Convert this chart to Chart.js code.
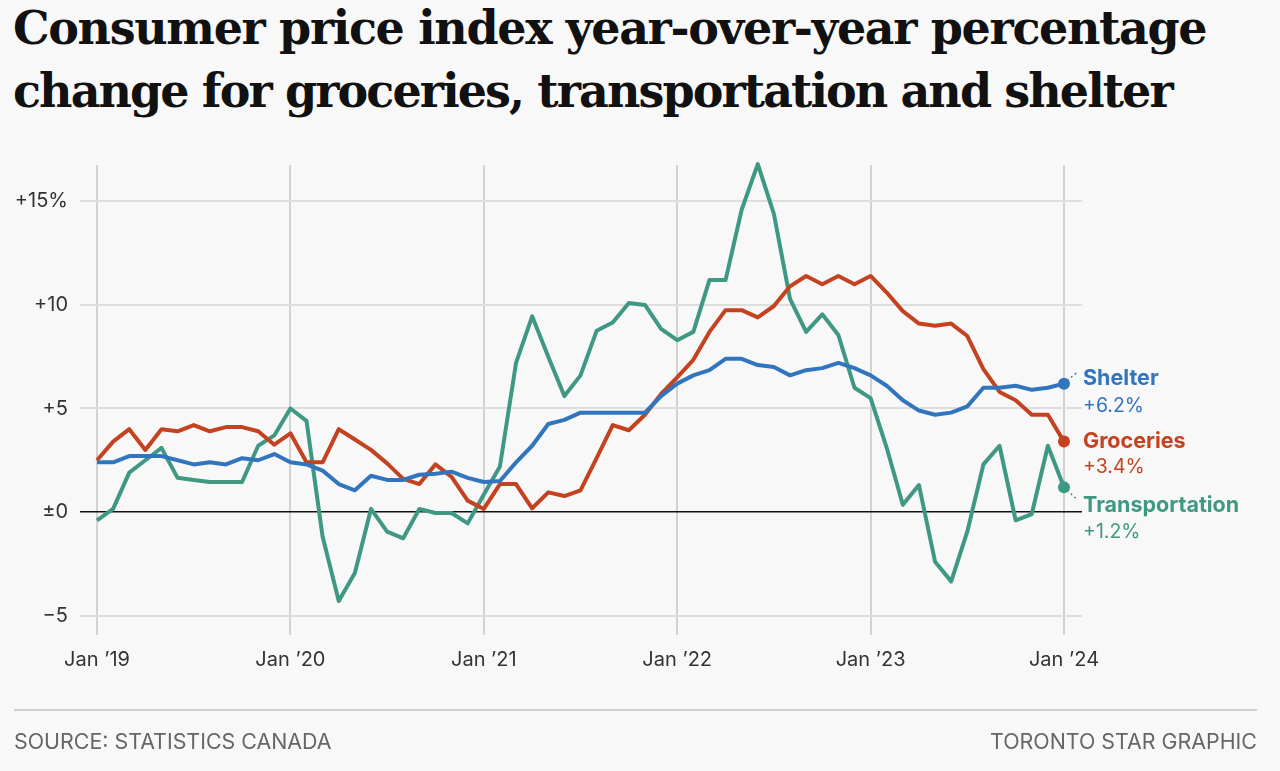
<!DOCTYPE html>
<html>
<head>
<meta charset="utf-8">
<script src="https://cdn.jsdelivr.net/npm/chart.js@4/dist/chart.umd.min.js"></script>
<style>
  html, body { margin: 0; padding: 0; background: #f8f8f8; }
  body { width: 1280px; height: 771px; position: relative; overflow: hidden; }
  #title { position: absolute; left: 13px; top: -3px; margin: 0; font-family: "DejaVu Serif", serif; font-weight: bold; font-size: 46px; line-height: 63px; color: #111; white-space: nowrap; }
  #title .l1 { letter-spacing: -1.35px; }
  #title .l2 { letter-spacing: -1.9px; }
  #chartwrap { position: absolute; left: 0; top: 0; width: 1280px; height: 771px; }
  #rule { position: absolute; left: 14px; width: 1243px; top: 709px; height: 2px; background: #d0d0d0; }
  .foot { position: absolute; top: 728px; font-family: Inter, "Noto Sans", sans-serif; font-size: 21.4px; color: #666; line-height: 26px; }
  #src { left: 14px; }
  #credit { right: 23px; }
</style>
</head>
<body>
<h1 id="title"><span class="l1">Consumer price index year-over-year percentage</span><br><span class="l2">change for groceries, transportation and shelter</span></h1>
<div id="chartwrap"><canvas id="c" width="1280" height="771"></canvas></div>
<div id="rule"></div>
<div class="foot" id="src">SOURCE: STATISTICS CANADA</div>
<div class="foot" id="credit">TORONTO STAR GRAPHIC</div>
<script>
// Months from Jan 2019 (index 0) to Jan 2024 (index 60)
const months = Array.from({length: 61}, (_, i) => i);
const xTickPositions = [0, 12, 24, 36, 48, 60];
const xTickLabels = ["Jan \u201919", "Jan \u201920", "Jan \u201921", "Jan \u201922", "Jan \u201923", "Jan \u201924"];
const yTickValues = [-5, 0, 5, 10, 15];
const yTickLabels = ["\u22125", "\u00b10", "+5", "+10", "+15%"];

const shelter = [
  2.4, 2.4, 2.7, 2.7, 2.7, 2.5, 2.3, 2.4, 2.3, 2.6, 2.5, 2.8,
  2.4, 2.3, 2.0, 1.35, 1.05, 1.75, 1.55, 1.55, 1.8, 1.85, 1.95, 1.65,
  1.45, 1.5, 2.4, 3.2, 4.25, 4.45, 4.8, 4.8, 4.8, 4.8, 4.8, 5.6,
  6.2, 6.6, 6.85, 7.4, 7.4, 7.1, 7.0, 6.6, 6.85, 6.95, 7.2, 6.95,
  6.6, 6.1, 5.4, 4.9, 4.7, 4.8, 5.1, 6.0, 6.0, 6.1, 5.9, 6.0,
  6.2
];
const groceries = [
  2.5, 3.4, 4.0, 3.0, 4.0, 3.9, 4.2, 3.9, 4.1, 4.1, 3.9, 3.25,
  3.8, 2.4, 2.4, 4.0, 3.5, 3.0, 2.35, 1.6, 1.35, 2.3, 1.7, 0.55,
  0.15, 1.35, 1.35, 0.18, 0.95, 0.77, 1.05, 2.6, 4.2, 3.95, 4.7, 5.7,
  6.5, 7.35, 8.7, 9.75, 9.75, 9.4, 9.95, 10.9, 11.4, 11.0, 11.4, 11.0,
  11.4, 10.6, 9.7, 9.1, 9.0, 9.1, 8.5, 6.9, 5.8, 5.4, 4.7, 4.7,
  3.4
];
const transportation = [
  -0.4, 0.15, 1.9, 2.5, 3.1, 1.65, 1.55, 1.45, 1.45, 1.45, 3.2, 3.7,
  5.0, 4.4, -1.2, -4.3, -2.95, 0.15, -0.95, -1.27, 0.15, -0.05, -0.05, -0.55,
  0.85, 2.2, 7.2, 9.45, 7.5, 5.6, 6.6, 8.75, 9.15, 10.1, 10.0, 8.85,
  8.3, 8.7, 11.2, 11.2, 14.6, 16.8, 14.4, 10.3, 8.7, 9.55, 8.55, 6.0,
  5.5, 3.1, 0.35, 1.3, -2.4, -3.35, -0.95, 2.3, 3.2, -0.4, -0.1, 3.2,
  1.2
];
const seriesNames = ["Shelter", "Groceries", "Transportation"];
const seriesColors = ["#3175bf", "#c4421f", "#3f9883"];

const toPts = arr => arr.map((v, i) => ({x: months[i], y: v}));

// label placement relative to each series' last point (pixels)
const labelOffsets = [
  {dx: 19, dyName: -5, dyValue: 22, lead: [[3, -3], [14, -12]]},
  {dx: 19, dyName: 0, dyValue: 26, lead: null},
  {dx: 19, dyName: 18, dyValue: 45, lead: [[3, 3], [14, 13]]}
];

const endLabels = {
  id: 'endLabels',
  afterDatasetsDraw(chart) {
    const ctx = chart.ctx;
    chart.data.datasets.forEach((ds, di) => {
      const meta = chart.getDatasetMeta(di);
      const p = meta.data[meta.data.length - 1];
      const last = ds.data[ds.data.length - 1].y;
      const o = labelOffsets[di];
      ctx.save();
      if (o.lead) {
        ctx.strokeStyle = seriesColors[di];
        ctx.lineWidth = 1.5;
        ctx.setLineDash([2, 3]);
        ctx.beginPath();
        ctx.moveTo(p.x + o.lead[0][0], p.y + o.lead[0][1]);
        ctx.lineTo(p.x + o.lead[1][0], p.y + o.lead[1][1]);
        ctx.stroke();
        ctx.setLineDash([]);
      }
      ctx.fillStyle = seriesColors[di];
      ctx.textBaseline = 'middle';
      ctx.textAlign = 'left';
      ctx.font = 'bold 21.5px Inter, "Noto Sans", sans-serif';
      ctx.fillText(seriesNames[di], p.x + o.dx, p.y + o.dyName);
      ctx.font = '19.5px Inter, "Noto Sans", sans-serif';
      ctx.fillText((last >= 0 ? '+' : '\u2212') + Math.abs(last).toFixed(1) + '%', p.x + o.dx, p.y + o.dyValue);
      ctx.restore();
    });
  }
};

new Chart(document.getElementById('c'), {
  type: 'line',
  data: {
    datasets: seriesNames.map((name, i) => ({
      label: name,
      data: toPts([shelter, groceries, transportation][i]),
      borderColor: seriesColors[i],
      backgroundColor: seriesColors[i],
      borderWidth: 4,
      tension: 0,
      clip: false,
      borderJoinStyle: 'round',
      pointRadius: ctx => ctx.dataIndex === 60 ? 6 : 0,
      pointHoverRadius: 0,
      pointBorderWidth: 0
    }))
  },
  options: {
    responsive: false,
    animation: false,
    events: [],
    layout: { padding: { left: 0, top: 165, right: 198, bottom: 86 } },
    plugins: { legend: { display: false }, tooltip: { enabled: false } },
    scales: {
      x: {
        type: 'linear',
        min: -1.055,
        max: 61.117,
        afterBuildTicks: s => { s.ticks = xTickPositions.map(v => ({value: v})); },
        afterFit: s => { s.height = 50; },
        grid: { color: '#d2d2d2', lineWidth: 2, drawTicks: false },
        border: { display: false },
        ticks: {
          padding: 13,
          color: '#333',
          font: { family: 'Inter, "Noto Sans", sans-serif', size: 20 },
          maxRotation: 0,
          autoSkip: false,
          callback: v => xTickLabels[xTickPositions.indexOf(v)]
        }
      },
      y: {
        type: 'linear',
        min: -5.94,
        max: 16.76,
        afterBuildTicks: s => { s.ticks = yTickValues.map(v => ({value: v})); },
        afterFit: s => { s.width = 80; },
        grid: {
          color: c => c.tick && c.tick.value === 0 ? '#111' : '#dedede',
          lineWidth: c => c.tick && c.tick.value === 0 ? 1.6 : 2,
          drawTicks: false,
          z: 0
        },
        border: { display: false },
        ticks: {
          padding: 12,
          color: '#333',
          font: { family: 'Inter, "Noto Sans", sans-serif', size: 20 },
          autoSkip: false,
          callback: v => yTickLabels[yTickValues.indexOf(v)]
        }
      }
    }
  },
  plugins: [endLabels]
});
</script>
</body>
</html>
